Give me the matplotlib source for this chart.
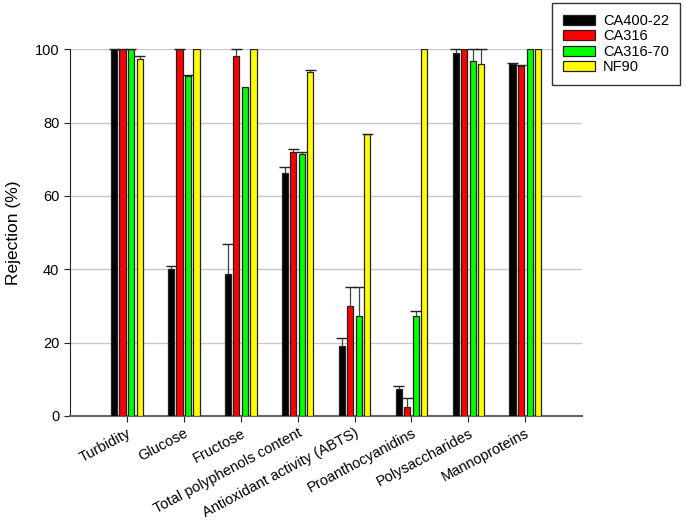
import numpy as np
import matplotlib
matplotlib.use('Agg')
import matplotlib.pyplot as plt

plt.rcParams['font.family'] = ['Liberation Sans', 'DejaVu Sans']

# Kategorien und Werte
categories = ['Turbidity', 'Glucose', 'Fructose', 'Total polyphenols content',
              'Antioxidant activity (ABTS)', 'Proanthocyanidins',
              'Polysaccharides', 'Mannoproteins']
series = ['CA400-22', 'CA316', 'CA316-70', 'NF90']
colors = ['#000000', '#ff0000', '#00ff00', '#ffff00']

ca400 = [100.0, 40.0, 38.8, 66.3, 19.1, 7.3, 99.0, 96.1]
ca316 = [100.0, 100.0, 98.1, 71.9, 29.9, 2.3, 100.0, 95.4]
ca316_70 = [100.0, 92.6, 89.8, 71.5, 27.2, 27.2, 96.9, 100.0]
nf90 = [97.5, 100.0, 100.0, 93.8, 76.8, 100.0, 96.1, 100.0]

# obere Fehlerbalken (nan = keiner)
nan = np.nan
err_ca400 = [0.0, 1.0, 8.2, 1.5, 2.2, 0.9, 1.0, 0.2]
err_ca316 = [0.0, 0.0, 1.9, 0.8, 5.3, 2.5, nan, 0.2]
err_ca316_70 = [0.0, 0.5, nan, 0.6, 8.0, 1.3, 3.1, nan]
err_nf90 = [0.6, nan, nan, 0.6, 0.2, nan, 3.9, nan]

values = [ca400, ca316, ca316_70, nf90]
errors = [err_ca400, err_ca316, err_ca316_70, err_nf90]

fig = plt.figure(figsize=(6.85, 5.25), dpi=100)
ax = fig.add_axes([0.102, 0.208, 0.748, 0.698])

x = np.arange(1, len(categories) + 1)
pitch = 0.15
width = 0.108
cap = 0.095
for i, (vals, errs) in enumerate(zip(values, errors)):
    pos = x + (i - 1.5) * pitch
    ax.bar(pos, vals, width, color=colors[i], edgecolor='#222222',
           linewidth=0.9, label=series[i], zorder=3)
    v = np.array(vals)
    e = np.array(errs)
    m = ~np.isnan(e)
    top = v[m] + e[m]
    # nur obere Fehlerbalken wie im Original
    ax.vlines(pos[m], v[m], top, color='#444444', linewidth=0.9, zorder=4,
              clip_on=False)
    ax.hlines(top, pos[m] - cap, pos[m] + cap, color='#222222', linewidth=1.0,
              zorder=4, clip_on=False)

ax.set_xlim(0, 9)
ax.set_ylim(0, 100)
ax.set_yticks([0, 20, 40, 60, 80, 100])
ax.set_xticks(x)
ax.set_xticklabels(categories, rotation=28, ha='right', rotation_mode='anchor',
                   fontsize=10.5)
ax.tick_params(axis='y', labelsize=10.5, length=4, color='#222222')
ax.tick_params(axis='x', length=4, color='#222222')
ax.set_ylabel('Rejection (%)', fontsize=12.5, labelpad=10)

ax.yaxis.grid(True, color='#c8c8c8', linewidth=1.0, zorder=0)
ax.set_axisbelow(True)
ax.spines['top'].set_visible(False)
ax.spines['right'].set_visible(False)
ax.spines['left'].set_color('#222222')
ax.spines['bottom'].set_color('#666666')
ax.spines['bottom'].set_linewidth(1.5)

leg = fig.legend(loc='upper left', bbox_to_anchor=(552 / 685, 1 - 3 / 525),
                 fontsize=10.5, frameon=True, fancybox=False, edgecolor='black',
                 handlelength=2.2, handleheight=0.7, borderpad=0.75,
                 labelspacing=0.1, handletextpad=0.55, borderaxespad=0)
leg.get_frame().set_linewidth(1.0)

fig.savefig('out.png', dpi=100)
